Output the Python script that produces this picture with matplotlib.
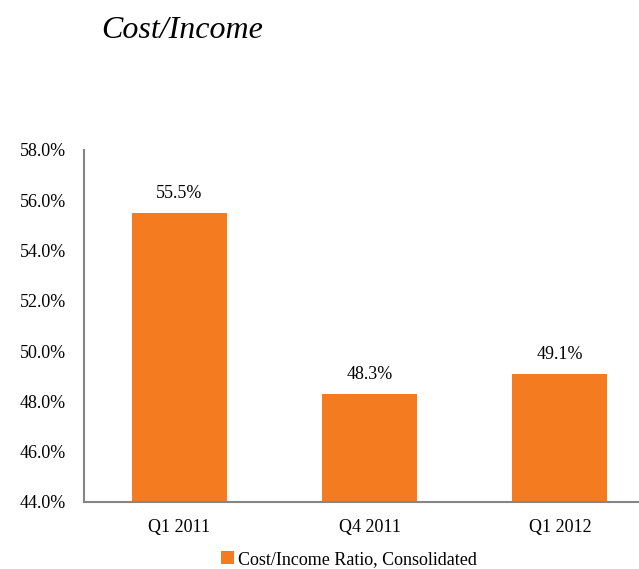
import matplotlib.pyplot as plt
from matplotlib.ticker import FuncFormatter

plt.rcParams['font.family'] = ['Liberation Serif', 'DejaVu Serif']

quarters = ['Q1 2011', 'Q4 2011', 'Q1 2012']
ratios = [55.5, 48.3, 49.1]
series_name = 'Cost/Income Ratio, Consolidated'
bar_color = '#F47B20'

fig = plt.figure(figsize=(6.39, 5.69), dpi=100)
ax = fig.add_axes([0.1315, 0.1178, 0.8936, 0.6186])

bars = ax.bar(range(len(quarters)), ratios, width=0.5, color=bar_color,
              label=series_name, zorder=2)

for i, v in enumerate(ratios):
    ax.annotate(f'{v:.1f}%', (i, v), xytext=(0, 8), textcoords='offset points',
                ha='center', va='bottom', fontsize=13)

ax.set_xlim(-0.5, 2.5)
ax.set_ylim(44, 58)
ax.set_yticks([44, 46, 48, 50, 52, 54, 56, 58])
ax.yaxis.set_major_formatter(FuncFormatter(lambda y, _: f'{y:.1f}%'))
ax.set_xticks(range(len(quarters)))
ax.set_xticklabels(quarters)
ax.tick_params(axis='both', length=0, labelsize=13)
ax.tick_params(axis='x', pad=12)
ax.tick_params(axis='y', pad=13)

for s in ['top', 'right']:
    ax.spines[s].set_visible(False)
for s in ['left', 'bottom']:
    ax.spines[s].set_color('#868686')
    ax.spines[s].set_linewidth(1.5)

fig.text(0.158, 0.947, 'Cost/Income', fontsize=23, style='italic',
         ha='left', va='center')

fig.legend(loc='center', bbox_to_anchor=(0.546, 0.017), frameon=False,
           fontsize=13, handlelength=0.7, handleheight=0.7, handletextpad=0.2,
           borderpad=0)

fig.savefig('out.png', dpi=100)
